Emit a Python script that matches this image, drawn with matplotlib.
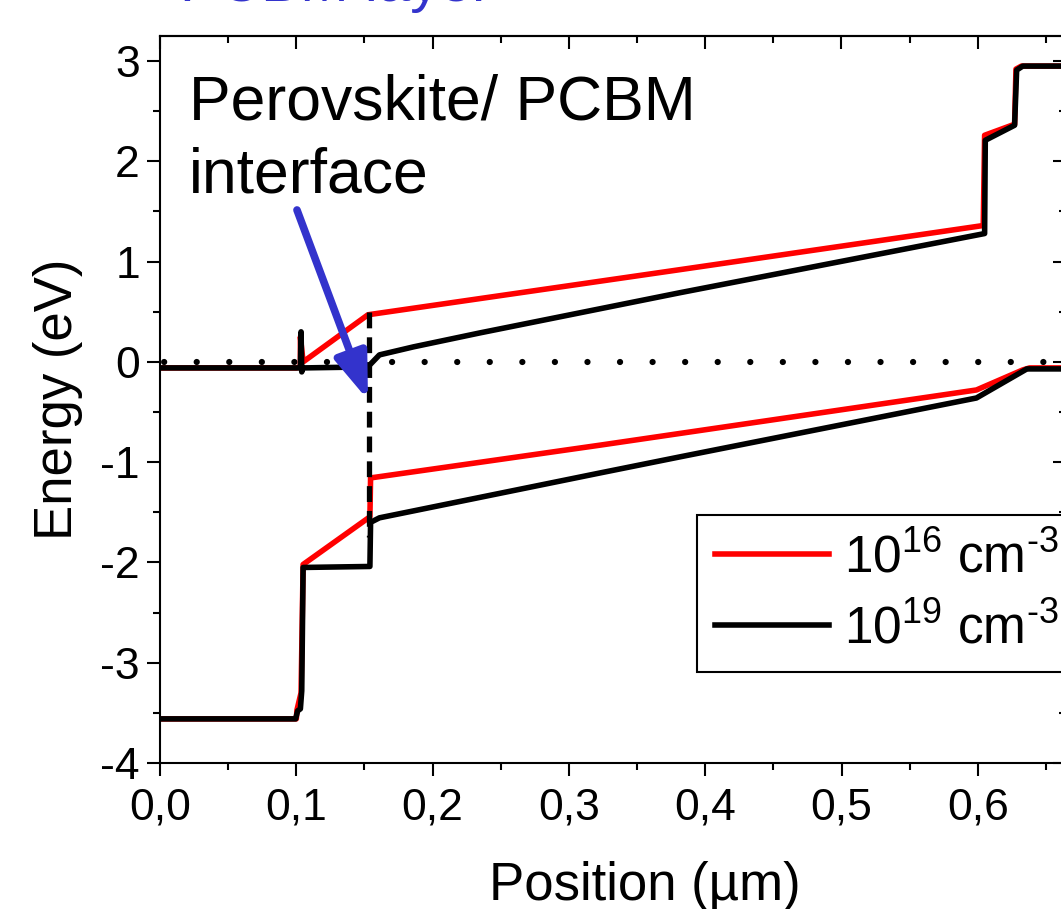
import matplotlib
matplotlib.use("Agg")
import matplotlib.pyplot as plt
from matplotlib.ticker import MultipleLocator, FuncFormatter

plt.rcParams['font.family'] = ['Liberation Sans', 'DejaVu Sans']
plt.rcParams['mathtext.fontset'] = 'custom'
plt.rcParams['mathtext.rm'] = 'Liberation Sans'
plt.rcParams['mathtext.it'] = 'Liberation Sans'

# conduction band, 1e16 doping
red_cb_x = [0.0, 0.100, 0.103, 0.103, 0.105, 0.1526, 0.3815, 0.604, 0.605, 0.627, 0.628, 0.632, 0.70]
red_cb_y = [-0.06, -0.06, -0.05, 0.25, 0.0, 0.47, 0.92, 1.36, 2.26, 2.37, 2.92, 2.95, 2.95]
# valence band, 1e16 doping
red_vb_x = [0.0, 0.100, 0.1005, 0.1035, 0.105, 0.154, 0.1545, 0.323, 0.599, 0.633, 0.638, 0.70]
red_vb_y = [-3.56, -3.56, -3.47, -3.30, -2.02, -1.545, -1.157, -0.83, -0.28, -0.08, -0.06, -0.06]

# conduction band, 1e19 doping
blk_cb_x = [0.0, 0.103, 0.1035, 0.104, 0.105, 0.1525, 0.161, 0.186, 0.235, 0.3815,
            0.605, 0.6055, 0.627, 0.6285, 0.633, 0.70]
blk_cb_y = [-0.06, -0.06, 0.30, -0.10, -0.06, -0.05, 0.07, 0.15, 0.29, 0.69,
            1.28, 2.21, 2.36, 2.91, 2.95, 2.95]
# valence band, 1e19 doping
blk_vb_x = [0.0, 0.0995, 0.101, 0.103, 0.104, 0.105, 0.154, 0.1545, 0.161, 0.323, 0.3815, 0.599, 0.636, 0.70]
blk_vb_y = [-3.56, -3.56, -3.48, -3.46, -3.28, -2.05, -2.04, -1.60, -1.555, -1.107, -0.947, -0.36, -0.07, -0.07]

fermi_x = [0.0, 0.70]
fermi_y = [0.0, 0.0]

iface_x = [0.1535, 0.1535]
iface_y = [0.5, -1.75]

labels = [r'10$^{16}$ cm$^{\text{-3}}$', r'10$^{19}$ cm$^{\text{-3}}$']

blue = '#3333cc'

fig = plt.figure(figsize=(10.61, 9.09), dpi=100)
ax = fig.add_axes([160/1061, 146/909, 906/1061, 727/909])

ax.plot(fermi_x, fermi_y, color='black', lw=4.5, linestyle=(4.55, (0.01, 5.2)),
        dash_capstyle='round', zorder=1)
ax.plot(red_cb_x, red_cb_y, color='#ff0000', lw=4, solid_joinstyle='round', label=labels[0], zorder=2)
ax.plot(red_vb_x, red_vb_y, color='#ff0000', lw=4, solid_joinstyle='round', zorder=2)
ax.plot(blk_cb_x, blk_cb_y, color='black', lw=4, solid_joinstyle='round', label=labels[1], zorder=3)
ax.plot(blk_vb_x, blk_vb_y, color='black', lw=4, solid_joinstyle='round', zorder=3)
ax.plot(iface_x, iface_y, color='black', lw=3.8, linestyle=(0, (3.0, 1.7)), zorder=4)

ax.annotate('', xy=(0.1526, -0.38), xytext=(0.1005, 1.515),
            arrowprops=dict(arrowstyle='-|>,head_length=0.7,head_width=0.25', color=blue,
                            lw=5.5, mutation_scale=40, shrinkA=0, shrinkB=0), zorder=5)
ax.text(0.021, 1.69, 'Perovskite/ PCBM\ninterface', fontsize=45, va='baseline', ha='left',
        linespacing=1.3)

fig.text(180/1061, 1 - 1/909, 'PCBM layer', color=blue, fontsize=42, va='baseline', ha='left')

ax.set_xlim(0, 906/1363)
ax.set_ylim(-4, 3.25)
ax.xaxis.set_major_locator(MultipleLocator(0.1))
ax.xaxis.set_minor_locator(MultipleLocator(0.05))
ax.yaxis.set_major_locator(MultipleLocator(1))
ax.yaxis.set_minor_locator(MultipleLocator(0.5))
ax.xaxis.set_major_formatter(FuncFormatter(lambda v, p: f"{v:.1f}".replace('.', ',')))
ax.yaxis.set_major_formatter(FuncFormatter(lambda v, p: f"{int(round(v))}"))

ax.tick_params(axis='both', which='major', direction='out', length=9.5, width=1.5,
               labelsize=32, pad=5)
ax.tick_params(axis='both', which='minor', direction='out', length=5, width=1.5)
ax.tick_params(axis='x', which='major', pad=8)
# mirrored ticks pointing inward on top and right
top = ax.secondary_xaxis('top')
top.xaxis.set_major_locator(MultipleLocator(0.1))
top.xaxis.set_minor_locator(MultipleLocator(0.05))
top.tick_params(which='major', direction='in', length=9.5, width=1.5, labeltop=False)
top.tick_params(which='minor', direction='in', length=5, width=1.5)
right = ax.secondary_yaxis('right')
right.yaxis.set_major_locator(MultipleLocator(1))
right.yaxis.set_minor_locator(MultipleLocator(0.5))
right.tick_params(which='major', direction='in', length=9.5, width=1.5, labelright=False)
right.tick_params(which='minor', direction='in', length=5, width=1.5)
for s in ax.spines.values():
    s.set_linewidth(1.5)
top.spines['top'].set_linewidth(1.5)
right.spines['right'].set_linewidth(1.5)

ax.set_xlabel('Position (µm)', fontsize=38)
ax.xaxis.set_label_coords(0.535, -0.135)
ax.set_ylabel('Energy (eV)', fontsize=38)
ax.yaxis.set_label_coords(-0.085, 0.5)

leg = ax.legend(loc='upper left', bbox_to_anchor=((697-160)/906, (763-515)/727),
                borderaxespad=0, fontsize=37, handlelength=2.2, handletextpad=0.3,
                labelspacing=0.41, borderpad=0.36, fancybox=False,
                framealpha=1, edgecolor='black')
leg.get_frame().set_linewidth(1.5)

fig.savefig('out.png', dpi=100)
